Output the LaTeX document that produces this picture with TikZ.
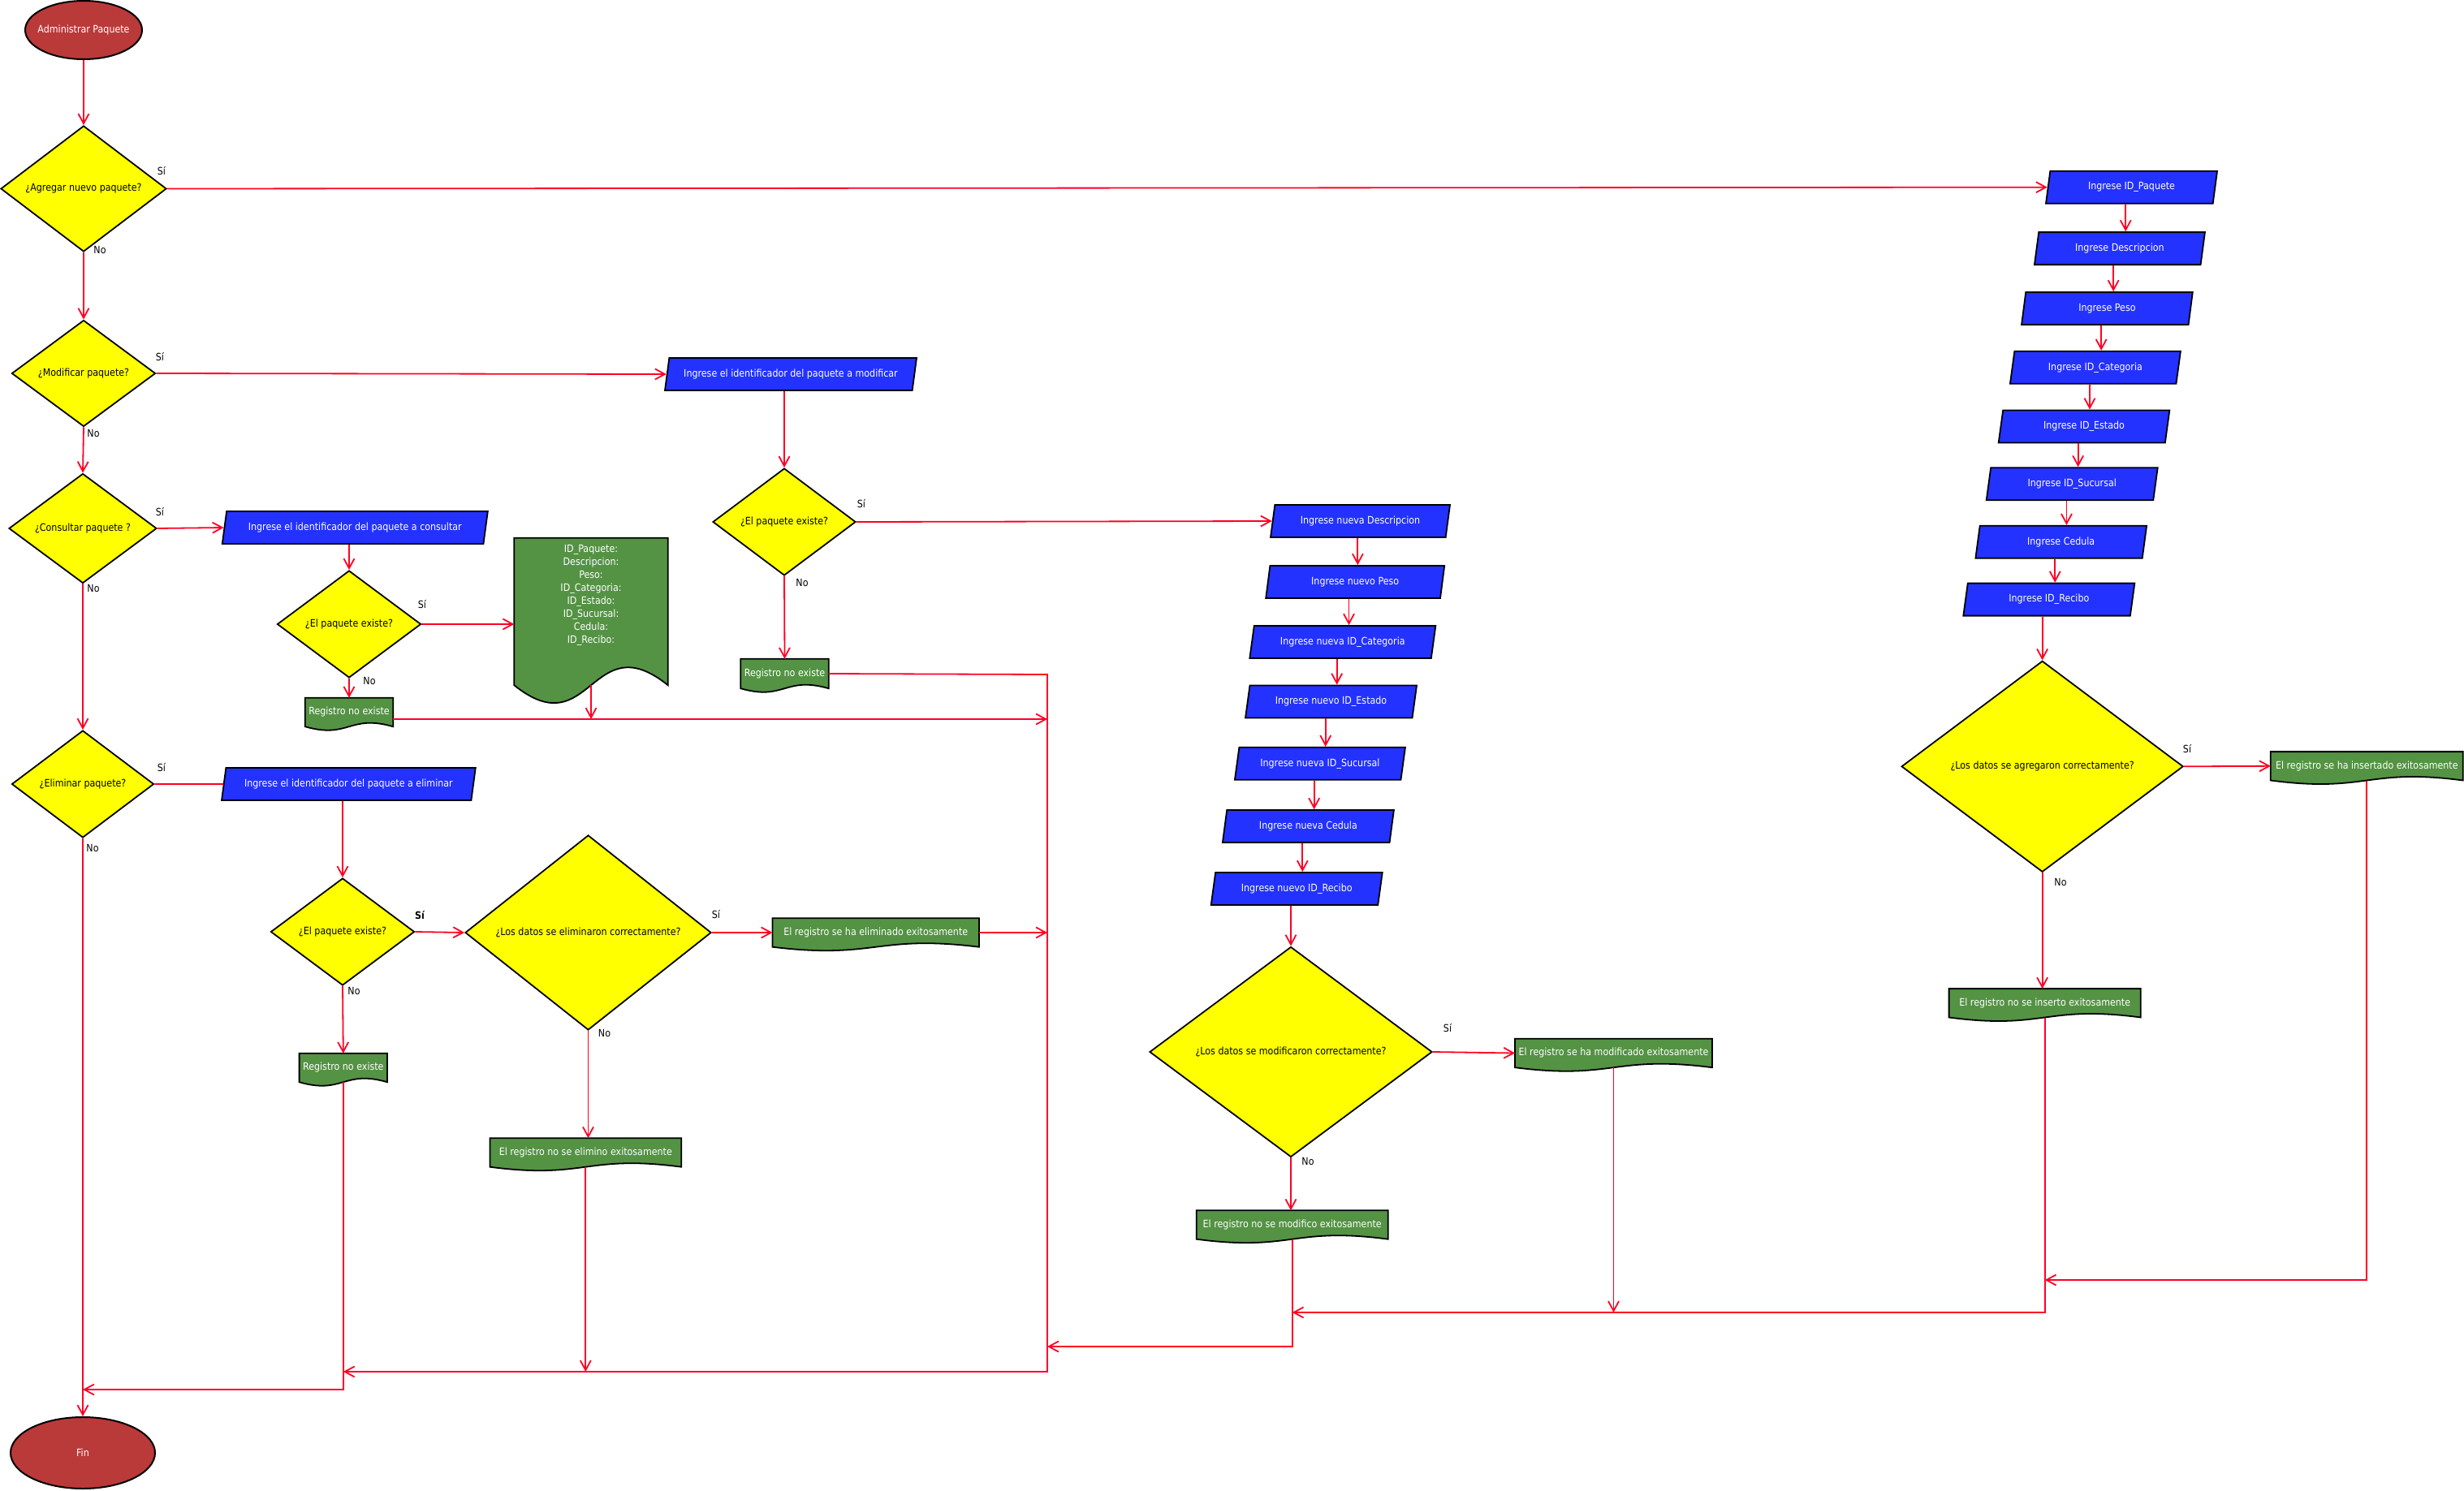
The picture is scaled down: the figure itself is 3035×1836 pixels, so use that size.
\documentclass[tikz,border=0pt]{standalone}
\usepackage{fontspec}
\setmainfont{DejaVu Sans}[FakeStretch=0.88]
\usetikzlibrary{shapes.geometric,arrows.meta,calc,backgrounds}

\definecolor{termred}{RGB}{186,57,57}
\definecolor{decyellow}{RGB}{255,255,0}
\definecolor{inblue}{RGB}{35,50,255}
\definecolor{docgreen}{RGB}{84,146,68}
\definecolor{flowred}{RGB}{255,0,36}

\tikzset{
  every node/.style={font=\fontsize{12.6}{16}\selectfont},
  term/.style={ellipse, draw=black, line width=2pt, fill=termred, text=white,
    inner xsep=-8pt, inner ysep=0pt},
  decision/.style={diamond, draw=black, line width=1.8pt, fill=decyellow, inner sep=0pt},
  inbox/.style={trapezium, trapezium left angle=69.4, trapezium right angle=110.6,
    trapezium stretches body, draw=black, line width=1.8pt, fill=inblue, text=white,
    inner sep=1pt, minimum height=40pt},
  docbox/.style={rectangle, inner sep=1pt, text=white, minimum height=35pt},
  docshape/.style={draw=black, line width=1.8pt, fill=docgreen},
  lbl/.style={inner sep=0pt},
  arr/.style={draw=flowred, line width=1.8pt, -{Straight Barb[length=12pt,width=13pt]}},
  link/.style={draw=flowred, line width=1.8pt},
}

% vertical arrow between two stacked input boxes, placed half way between them
\newcommand\chainlink[2]{%
  \path ($(#1.south)!0.5!(#2.north)$) coordinate (mid);
  \draw[arr] (mid |- #1.south) -- (mid |- #2.north);}

\begin{document}
\begin{tikzpicture}[x=1pt,y=-1pt]
\useasboundingbox (0,0) rectangle (3035,1836);

% ---------- main column ----------
\node[term, minimum width=144pt, minimum height=72pt] (start) at (103,37) {Administrar Paquete};
\node[decision, minimum width=204pt, minimum height=152pt] (D1) at (103,232.5) {¿Agregar nuevo paquete?};
\node[decision, minimum width=177pt, minimum height=131pt] (D2) at (103,460) {¿Modificar paquete?};
\node[decision, minimum width=182pt, minimum height=135pt] (D3) at (102,651) {¿Consultar paquete ?};
\node[decision, minimum width=175pt, minimum height=132pt] (D5) at (102,966) {¿Eliminar paquete?};
\node[term, minimum width=178pt, minimum height=88pt] (fin) at (102,1790) {Fin};

% ---------- consult branch ----------
\node[inbox, minimum width=327pt] (Pcons) at (437.3,650) {Ingrese el identificador del paquete a consultar};
\node[decision, minimum width=177pt, minimum height=132pt] (D4) at (430,769) {¿El paquete existe?};
\node[docbox, minimum width=108pt] (R1) at (430,877.5) {Registro no existe};
\node[docbox, minimum width=189pt, minimum height=181pt] (DocBig) at (728,753.5) {};
\node[align=center, text=white, inner sep=0pt] (fields) at (728,733)
  {ID\_Paquete:\\Descripcion:\\Peso:\\ID\_Categoria:\\ID\_Estado:\\ID\_Sucursal:\\Cedula:\\ID\_Recibo:};

% ---------- modify branch ----------
\node[inbox, minimum width=310pt] (Pmod) at (974,461) {Ingrese el identificador del paquete a modificar};
\node[decision, minimum width=176pt, minimum height=132pt] (D6) at (966,643) {¿El paquete existe?};
\node[docbox, minimum width=108pt, minimum height=36pt] (R2) at (966.5,830) {Registro no existe};
\node[inbox, minimum width=221pt] (Pn1) at (1675.5,642) {Ingrese nueva Descripcion};
\node[inbox, minimum width=220pt] (Pn2) at (1669.2,717) {Ingrese nuevo Peso};
\node[inbox, minimum width=229pt] (Pn3) at (1653.8,791) {Ingrese nueva ID\_Categoria};
\node[inbox, minimum width=211pt] (Pn4) at (1639.5,864.5) {Ingrese nuevo ID\_Estado};
\node[inbox, minimum width=210pt] (Pn5) at (1625.9,940.8) {Ingrese nueva ID\_Sucursal};
\node[inbox, minimum width=211pt] (Pn6) at (1611.4,1018) {Ingrese nueva Cedula};
\node[inbox, minimum width=211pt] (Pn7) at (1597.2,1095) {Ingrese nuevo ID\_Recibo};
\node[decision, minimum width=348pt, minimum height=259pt] (D9) at (1590,1296) {¿Los datos se modificaron correctamente?};
\node[docbox, minimum width=242.5pt] (M1) at (1987.5,1297.5) {El registro se ha modificado exitosamente};
\node[docbox, minimum width=235.5pt] (M2) at (1591.7,1509) {El registro no se modifico exitosamente};

% ---------- delete branch ----------
\node[inbox, minimum width=312.7pt] (Pelim) at (429.4,966) {Ingrese el identificador del paquete a eliminar};
\node[decision, minimum width=177pt, minimum height=132pt] (D7) at (422,1148) {¿El paquete existe?};
\node[decision, minimum width=303pt, minimum height=226pt] (D8) at (724.5,1149) {¿Los datos se eliminaron correctamente?};
\node[docbox, minimum width=254pt] (E1) at (1078.7,1149) {El registro se ha eliminado exitosamente};
\node[docbox, minimum width=108pt] (R3) at (422.8,1315.5) {Registro no existe};
\node[docbox, minimum width=235.4pt] (E2) at (721.3,1420) {El registro no se elimino exitosamente};

% ---------- add branch ----------
\node[inbox, minimum width=211pt] (A1) at (2625.5,230.7) {Ingrese ID\_Paquete};
\node[inbox, minimum width=210pt] (A2) at (2610.9,306.1) {Ingrese Descripcion};
\node[inbox, minimum width=210.7pt] (A3) at (2595.4,380) {Ingrese Peso};
\node[inbox, minimum width=210pt] (A4) at (2580.9,452.7) {Ingrese ID\_Categoria};
\node[inbox, minimum width=210.6pt] (A5) at (2567,525.4) {Ingrese ID\_Estado};
\node[inbox, minimum width=211pt] (A6) at (2552.2,596.2) {Ingrese ID\_Sucursal};
\node[inbox, minimum width=210.7pt] (A7) at (2538.7,667.8) {Ingrese Cedula};
\node[inbox, minimum width=211pt] (A8) at (2523.8,738.6) {Ingrese ID\_Recibo};
\node[decision, minimum width=347pt, minimum height=260pt] (D10) at (2515.6,944.3) {¿Los datos se agregaron correctamente?};
\node[docbox, minimum width=236.6pt] (I1) at (2915.3,943.8) {El registro se ha insertado exitosamente};
\node[docbox, minimum width=235.8pt] (I2) at (2518.7,1235.8) {El registro no se inserto exitosamente};

% ---------- branch labels ----------
\node[lbl] (s1) at (199,211) {Sí};      \node[lbl] (n1) at (123,308) {No};
\node[lbl] (s2) at (197,440) {Sí};      \node[lbl] (n2) at (115,534) {No};
\node[lbl] (s3) at (197,631) {Sí};      \node[lbl] (n3) at (115,725) {No};
\node[lbl] (s4) at (520,744.6) {Sí};    \node[lbl] (n4) at (455,838.7) {No};
\node[lbl] (s5) at (199,946) {Sí};      \node[lbl] (n5) at (114,1045) {No};
\node[lbl] (s6) at (1061,621) {Sí};     \node[lbl] (n6) at (988,718) {No};
\node[lbl, font=\fontsize{12.6}{16}\selectfont\bfseries] (s7) at (517,1128) {Sí};
\node[lbl] (n7) at (436,1221) {No};
\node[lbl] (s8) at (882,1127) {Sí};     \node[lbl] (n8) at (744.5,1272.7) {No};
\node[lbl] (s9) at (1783,1267) {Sí};    \node[lbl] (n9) at (1611,1431) {No};
\node[lbl] (s10) at (2694,923) {Sí};    \node[lbl] (n10) at (2538,1087) {No};

% ---------- helper points for the collecting lines ----------
\coordinate (V) at (1290,831);
\coordinate (yA) at (0,1577);
\coordinate (yB) at (0,1617);
\coordinate (yC) at (0,1659);
\coordinate (yD) at (0,1690);
\coordinate (yE) at (0,886);
\coordinate (yF) at (0,1712);

% ---------- connectors: main column ----------
\draw[arr] (start.south) -- (D1.north);
\draw[arr] (D1.south) -- (D2.north);
\draw[arr] (D2.south) -- (D3.north);
\draw[arr] (D3.south) -- (D5.north);
\draw[arr] (D5.south) -- (fin.north);

% ---------- connectors: add ----------
\draw[arr] (D1.east) -- (A1.west);
\chainlink{A1}{A2}
\chainlink{A2}{A3}
\chainlink{A3}{A4}
\chainlink{A4}{A5}
\chainlink{A5}{A6}
\chainlink{A6}{A7}
\chainlink{A7}{A8}
\draw[arr] (D10.north |- A8.south) -- (D10.north);
\draw[arr] (D10.east) -- (I1.west);
\draw[arr] (D10.south) -- (D10.south |- I2.north);
\draw[arr] (I1.south) |- (I2.south |- yA);
\draw[arr] (I2.south) |- (M2.south |- yB);

% ---------- connectors: modify ----------
\draw[arr] (D2.east) -- (Pmod.west);
\draw[arr] (D6.north |- Pmod.south) -- (D6.north);
\draw[arr] (D6.east) -- (Pn1.west);
\draw[arr] (D6.south) -- (R2.north);
\chainlink{Pn1}{Pn2}
\chainlink{Pn2}{Pn3}
\chainlink{Pn3}{Pn4}
\chainlink{Pn4}{Pn5}
\chainlink{Pn5}{Pn6}
\chainlink{Pn6}{Pn7}
\draw[arr] (D9.north |- Pn7.south) -- (D9.north);
\draw[arr] (D9.east) -- (M1.west);
\draw[arr] (D9.south) -- (D9.south |- M2.north);
\draw[arr] (M1.south) -- (M1.south |- yB);
\draw[arr] (M2.south) |- (V |- yC);
\draw[arr] (R2.east) -- (V) |- (R3.south |- yD);

% ---------- connectors: consult ----------
\draw[arr] (D3.east) -- (Pcons.west);
\draw[arr] (D4.north |- Pcons.south) -- (D4.north);
\draw[arr] (D4.east) -- (D4.east -| DocBig.west);
\draw[arr] (D4.south) -- (R1.north);
\draw[arr] (R1.east |- yE) -- (V |- yE);
\draw[arr] (DocBig.south) -- (DocBig.south |- yE);

% ---------- connectors: delete ----------
\draw[link] (D5.east) -- (Pelim.west);
\draw[arr] (D7.north |- Pelim.south) -- (D7.north);
\draw[arr] (D7.east) -- (D8.west);
\draw[arr] (D7.south) -- (R3.north);
\draw[arr] (D8.east) -- (E1.west);
\draw[arr] (D8.south) -- (D8.south |- E2.north);
\draw[arr] (E1.east) -- (E1.east -| V);
\draw[arr] (E2.south) -- (E2.south |- yD);
\draw[arr] (R3.south) |- (fin.north |- yF);

% ---------- document shapes (wavy bottom) behind their texts ----------
\begin{pgfonlayer}{background}
  \fill[white] (0,0) rectangle (3035,1836);
  \foreach \n/\k in {R1/15.6,R2/15.6,R3/15.6,E1/15.6,E2/15.6,M1/15.6,M2/15.6,I1/15.6,I2/15.6,DocBig/76}
    \draw[docshape] (\n.north west) -- (\n.north east) -- (\n.south east)
      .. controls ($(\n.south)+(0,-\k)$) and ($(\n.south)+(0,\k)$) .. (\n.south west) -- cycle;
\end{pgfonlayer}
\end{tikzpicture}
\end{document}
